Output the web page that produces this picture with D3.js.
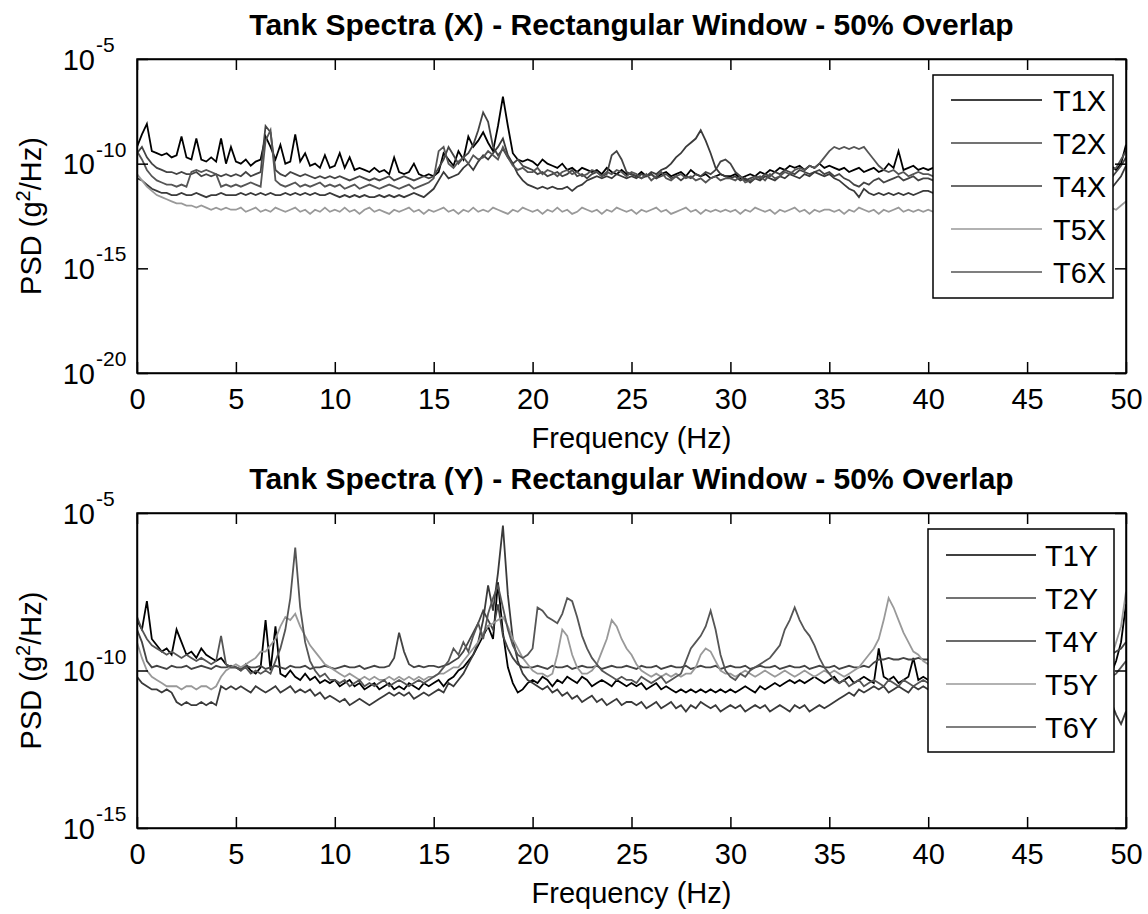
<!DOCTYPE html>
<html><head><meta charset="utf-8">
<script src="https://cdn.jsdelivr.net/npm/d3@7"></script>
<style>body{margin:0;background:#fff}svg text{font-family:"Liberation Sans",Arial,Helvetica,sans-serif;fill:#000}</style>
</head><body><svg id="chart" width="1148" height="914"></svg>
<script>
// ---------------- data (log10 of PSD, g^2/Hz), bins every 0.25 Hz from 0 to 50 Hz ----------------
const freqStep = 0.25;
const xTickValues = [0,5,10,15,20,25,30,35,40,45,50];
const yDecadesX = [-20,-15,-10,-5];
const yDecadesY = [-15,-10,-5];
const namesX = ["T1X","T2X","T4X","T5X","T6X"];
const namesY = ["T1Y","T2Y","T4Y","T5Y","T6Y"];
const titleX = "Tank Spectra (X) - Rectangular Window - 50% Overlap";
const titleY = "Tank Spectra (Y) - Rectangular Window - 50% Overlap";

const T1X = [
-9.2,-8.6,-8.1,-9.4,-9.5,-9.6,-9.5,-9.7,-9.6,-8.7,-9.7,-9.8,-8.8,-9.8,-9.9,-9.7,-9.9,-8.8,-10.0,-9.2,
-9.9,-10.0,-9.8,-10.1,-9.9,-9.8,-8.7,-9.2,-9.8,-9.1,-10.0,-9.9,-8.6,-9.9,-9.5,-10.1,-10.0,-10.2,-9.6,-10.2,
-10.1,-9.5,-10.2,-9.7,-10.3,-10.2,-10.3,-10.4,-10.2,-10.4,-10.3,-10.5,-9.7,-10.4,-10.5,-10.4,-10.0,-10.5,-10.6,-10.5,
-10.6,-10.4,-9.5,-9.8,-10.1,-9.4,-9.8,-8.7,-9.2,-8.9,-8.5,-9.0,-9.4,-8.2,-6.8,-8.2,-9.5,-9.8,-9.9,-9.8,
-9.9,-10.1,-9.8,-10.0,-10.1,-10.2,-10.0,-10.3,-10.2,-10.4,-10.2,-10.3,-10.4,-10.3,-10.5,-10.2,-10.4,-10.5,-10.3,-10.5,
-10.5,-10.6,-10.4,-10.6,-10.5,-10.7,-10.5,-10.4,-10.6,-10.5,-10.4,-10.6,-10.3,-10.5,-10.6,-10.5,-10.7,-10.6,-10.5,-10.6,
-10.6,-10.5,-10.7,-10.6,-10.5,-10.6,-10.4,-10.5,-10.3,-10.4,-10.2,-10.3,-10.1,-10.2,-10.1,-10.3,-10.1,-10.2,-10.0,-10.2,
-10.1,-10.2,-10.3,-10.2,-10.4,-10.3,-10.2,-10.4,-10.3,-10.2,-10.4,-10.3,-10.0,-10.2,-9.4,-10.3,-10.2,-10.1,-10.3,-10.2,
-10.3,-10.2,-10.4,-10.3,-10.2,-10.4,-10.3,-10.2,-10.3,-10.4,-10.2,-10.3,-10.4,-10.3,-10.2,-10.4,-10.3,-10.2,-10.4,-10.3,
-10.2,-10.4,-10.3,-10.2,-10.4,-10.3,-10.2,-10.3,-10.4,-10.2,-10.3,-10.4,-10.3,-10.2,-10.3,-10.4,-10.2,-10.1,-10.3,-10.0,
-9.1];
const T2X = [
-9.5,-9.2,-9.7,-10.0,-10.2,-10.3,-10.4,-10.4,-10.5,-10.4,-10.5,-10.5,-10.4,-10.6,-10.5,-10.6,-10.5,-10.6,-10.5,-10.6,
-10.5,-10.6,-10.4,-10.6,-10.5,-10.4,-8.2,-8.5,-10.3,-10.5,-10.6,-10.4,-10.5,-10.6,-10.5,-10.6,-10.7,-10.6,-10.7,-10.6,
-10.7,-10.6,-10.7,-10.8,-10.7,-10.6,-10.7,-10.8,-10.7,-10.8,-10.7,-10.6,-10.8,-10.7,-10.6,-10.7,-10.8,-10.7,-10.6,-10.7,
-10.6,-10.2,-9.8,-9.2,-9.6,-10.0,-9.7,-9.5,-9.1,-8.4,-7.55,-8.0,-9.2,-9.6,-9.3,-9.7,-10.0,-9.8,-10.1,-10.2,
-10.3,-10.5,-10.4,-10.6,-10.5,-10.4,-10.6,-10.5,-10.3,-10.6,-10.5,-10.7,-10.5,-10.4,-10.6,-10.5,-9.6,-9.4,-9.8,-10.4,
-10.5,-10.6,-10.7,-10.6,-10.5,-10.7,-10.6,-10.5,-10.7,-10.6,-10.8,-10.6,-10.7,-10.5,-10.6,-10.4,-10.5,-10.3,-9.9,-9.8,
-10.0,-10.4,-10.6,-10.8,-10.7,-10.6,-10.7,-10.5,-10.6,-10.4,-10.5,-10.3,-10.4,-10.5,-10.3,-10.4,-10.5,-10.4,-10.3,-10.5,
-10.4,-10.6,-10.5,-10.7,-10.8,-11.0,-11.1,-10.9,-11.0,-10.8,-10.7,-10.9,-10.8,-10.7,-10.6,-10.8,-10.7,-10.6,-10.8,-10.7,
-10.7,-10.8,-10.6,-10.7,-10.8,-10.7,-10.6,-10.8,-10.7,-10.6,-10.7,-10.8,-10.7,-10.6,-10.7,-10.8,-10.7,-10.6,-10.8,-10.7,
-10.6,-10.7,-10.8,-10.7,-10.6,-10.7,-10.8,-10.6,-10.7,-10.8,-10.7,-10.6,-10.7,-10.8,-10.7,-10.6,-10.8,-10.7,-10.4,-10.1,
-9.7];
const T4X = [
-10.7,-10.8,-11.0,-11.2,-11.3,-11.4,-11.4,-11.5,-11.5,-11.4,-11.5,-11.5,-11.4,-11.5,-11.6,-11.5,-11.5,-11.4,-11.5,-11.5,
-11.5,-11.4,-11.5,-11.4,-11.5,-11.4,-11.5,-11.4,-11.5,-11.5,-11.4,-11.5,-11.4,-11.5,-11.4,-11.5,-11.4,-11.5,-11.5,-11.4,
-11.5,-11.6,-11.5,-11.6,-11.5,-11.6,-11.5,-11.6,-11.6,-11.5,-11.6,-11.5,-11.6,-11.5,-11.6,-11.5,-11.4,-11.5,-11.6,-11.4,
-11.2,-10.8,-10.4,-10.7,-10.6,-10.5,-10.2,-10.0,-10.3,-9.9,-9.6,-9.8,-9.5,-9.2,-8.8,-9.6,-10.0,-10.5,-10.8,-11.0,
-11.1,-11.2,-11.1,-11.2,-11.1,-11.2,-11.2,-11.1,-11.3,-11.1,-11.0,-10.8,-10.7,-10.6,-10.7,-10.6,-10.7,-10.5,-10.6,-10.7,
-10.6,-10.7,-10.5,-10.6,-10.4,-10.5,-10.3,-10.2,-10.0,-9.7,-9.5,-9.2,-9.0,-8.8,-8.4,-8.9,-9.5,-10.2,-10.5,-10.6,
-10.7,-10.6,-10.8,-10.7,-10.9,-10.7,-10.8,-10.6,-10.7,-10.8,-10.6,-10.7,-10.5,-10.6,-10.7,-10.5,-10.6,-10.4,-10.5,-10.6,
-10.5,-10.7,-10.8,-11.0,-11.2,-11.3,-11.6,-11.2,-11.4,-11.5,-11.4,-11.5,-11.4,-11.5,-11.4,-11.5,-11.4,-11.5,-11.4,-11.3,
-11.3,-11.4,-11.3,-11.2,-11.3,-11.4,-11.3,-11.2,-11.3,-11.4,-11.3,-11.2,-11.3,-11.4,-11.3,-11.2,-11.3,-11.4,-11.3,-11.2,
-11.3,-11.4,-11.3,-11.2,-11.3,-11.4,-11.3,-11.2,-11.3,-11.4,-11.3,-11.2,-11.3,-11.4,-11.3,-11.2,-11.3,-11.2,-10.9,-10.6,
-10.1];
const T5X = [
-10.5,-10.8,-11.1,-11.3,-11.5,-11.6,-11.7,-11.8,-11.9,-11.9,-12.0,-12.0,-12.1,-12.0,-12.1,-12.2,-12.1,-12.2,-12.1,-12.2,
-12.2,-12.1,-12.3,-12.2,-12.1,-12.3,-12.2,-12.3,-12.1,-12.2,-12.3,-12.2,-12.1,-12.3,-12.2,-12.4,-12.2,-12.3,-12.1,-12.3,
-12.2,-12.3,-12.1,-12.3,-12.2,-12.4,-12.2,-12.1,-12.3,-12.2,-12.3,-12.4,-12.2,-12.3,-12.2,-12.1,-12.3,-12.2,-12.4,-12.2,
-12.3,-12.2,-12.1,-12.3,-12.2,-12.4,-12.2,-12.3,-12.1,-12.3,-12.2,-12.3,-12.1,-12.2,-12.3,-12.4,-12.2,-12.3,-12.1,-12.2,
-12.3,-12.2,-12.4,-12.2,-12.3,-12.1,-12.3,-12.2,-12.4,-12.3,-12.1,-12.2,-12.3,-12.2,-12.4,-12.2,-12.3,-12.1,-12.2,-12.3,
-12.2,-12.4,-12.2,-12.3,-12.2,-12.1,-12.3,-12.2,-12.4,-12.3,-12.2,-12.1,-12.3,-12.2,-12.4,-12.2,-12.3,-12.2,-12.3,-12.2,
-12.3,-12.2,-12.4,-12.2,-12.3,-12.1,-12.2,-12.3,-12.2,-12.4,-12.2,-12.3,-12.2,-12.1,-12.3,-12.2,-12.4,-12.2,-12.3,-12.2,
-12.2,-12.3,-12.2,-12.4,-12.2,-12.3,-12.1,-12.2,-12.3,-12.2,-12.4,-12.2,-12.3,-12.2,-12.1,-12.3,-12.2,-12.3,-12.2,-12.3,
-12.2,-12.3,-12.2,-12.3,-12.2,-12.4,-12.2,-12.3,-12.2,-12.1,-12.3,-12.2,-12.3,-12.2,-12.4,-12.2,-12.3,-12.2,-12.3,-12.2,
-12.3,-12.2,-12.4,-12.2,-12.3,-12.2,-12.1,-12.3,-12.2,-12.3,-12.2,-12.4,-12.2,-12.3,-12.2,-12.3,-12.2,-12.1,-12.2,-12.0,
-11.8];
const T6X = [
-9.4,-9.8,-10.3,-10.6,-10.8,-10.9,-11.0,-11.0,-11.1,-11.0,-11.1,-10.4,-10.3,-10.4,-10.3,-10.4,-10.5,-11.1,-11.0,-11.1,
-11.0,-11.1,-11.0,-10.9,-11.0,-11.1,-8.9,-8.4,-10.8,-11.0,-11.1,-11.0,-10.9,-11.1,-11.0,-11.1,-11.0,-10.9,-11.1,-11.0,
-11.1,-11.0,-11.2,-11.1,-11.0,-11.2,-11.1,-11.0,-11.1,-11.2,-11.1,-11.0,-11.1,-11.2,-11.1,-11.0,-11.2,-11.1,-11.0,-10.9,
-10.7,-9.4,-9.2,-10.0,-10.2,-9.9,-9.7,-10.0,-9.6,-9.8,-9.7,-9.4,-9.6,-9.8,-9.2,-9.7,-10.1,-10.3,-10.2,-10.4,
-10.4,-10.2,-10.5,-10.3,-10.4,-10.6,-10.4,-10.3,-10.5,-10.4,-10.6,-10.5,-10.3,-10.4,-10.6,-10.4,-10.5,-10.3,-10.4,-10.6,
-10.4,-10.5,-10.7,-10.5,-10.8,-10.6,-10.4,-10.7,-10.8,-10.6,-10.5,-10.7,-10.6,-10.8,-10.7,-10.9,-10.7,-10.6,-10.8,-10.7,
-10.7,-10.8,-10.6,-10.9,-10.8,-10.7,-10.6,-10.8,-10.5,-10.7,-10.6,-10.4,-10.5,-10.3,-10.2,-10.3,-10.1,-10.2,-10.0,-9.7,
-9.4,-9.2,-9.3,-9.2,-9.3,-9.2,-9.3,-9.2,-9.5,-9.8,-10.1,-10.3,-10.4,-10.3,-10.5,-10.4,-10.6,-10.5,-10.4,-10.5,
-10.5,-10.6,-10.5,-10.4,-10.6,-10.5,-10.4,-10.6,-10.5,-10.4,-10.5,-10.6,-10.5,-10.4,-10.6,-10.5,-10.4,-10.5,-10.6,-10.5,
-10.4,-10.6,-10.5,-10.4,-10.5,-10.6,-10.5,-10.4,-10.6,-10.5,-10.4,-10.5,-10.6,-10.5,-10.4,-10.6,-10.5,-10.3,-10.2,-9.8,
-9.4];

const T1Y = [
-8.4,-8.7,-7.8,-9.0,-9.2,-9.4,-9.3,-9.5,-8.7,-9.1,-9.5,-9.4,-9.6,-9.3,-9.5,-9.6,-9.7,-9.6,-9.8,-9.9,
-9.9,-10.0,-9.8,-10.0,-10.1,-9.9,-8.4,-10.0,-8.6,-10.1,-10.2,-10.0,-10.2,-10.3,-10.1,-10.3,-10.2,-10.4,-10.3,-10.4,
-10.3,-10.5,-10.4,-10.3,-10.5,-10.4,-10.6,-10.5,-10.4,-10.6,-10.5,-10.4,-10.6,-10.5,-10.6,-10.4,-10.5,-10.6,-10.4,-10.5,
-10.4,-10.3,-10.5,-10.3,-10.2,-10.0,-9.9,-9.7,-9.5,-9.2,-8.9,-8.6,-9.0,-7.2,-8.8,-9.9,-10.4,-10.7,-10.6,-10.4,
-10.3,-10.4,-10.2,-10.3,-10.5,-10.3,-10.4,-10.2,-10.3,-10.4,-10.2,-10.3,-10.5,-10.4,-10.3,-10.4,-10.5,-10.3,-10.4,-10.5,
-10.4,-10.5,-10.4,-10.6,-10.5,-10.4,-10.6,-10.5,-10.6,-10.7,-10.6,-10.7,-10.6,-10.7,-10.6,-10.7,-10.6,-10.7,-10.6,-10.7,
-10.6,-10.7,-10.6,-10.5,-10.6,-10.7,-10.5,-10.6,-10.5,-10.4,-10.5,-10.4,-10.3,-10.4,-10.3,-10.4,-10.3,-10.2,-10.3,-10.4,
-10.3,-10.2,-10.4,-10.3,-10.2,-10.4,-10.3,-10.2,-10.3,-10.4,-9.3,-10.2,-10.3,-10.2,-10.4,-10.3,-10.2,-9.6,-10.3,-10.2,
-10.3,-10.2,-10.4,-10.3,-10.2,-10.3,-10.4,-10.2,-10.3,-10.4,-10.2,-10.3,-10.2,-10.4,-10.3,-10.2,-10.3,-10.4,-10.2,-10.3,
-10.4,-10.2,-10.3,-10.4,-10.2,-10.3,-10.2,-10.4,-10.3,-10.2,-10.3,-10.4,-10.2,-10.3,-10.4,-10.2,-10.3,-10.1,-9.7,-9.1,
-7.9];
const T2Y = [
-8.7,-9.1,-9.7,-9.9,-9.85,-9.9,-9.95,-9.85,-9.9,-9.9,-9.85,-9.95,-9.9,-9.85,-9.9,-9.95,-9.85,-9.9,-9.9,-9.85,
-9.9,-9.95,-9.85,-9.9,-9.9,-9.85,-9.95,-9.9,-9.85,-9.9,-9.95,-9.85,-9.9,-9.9,-9.85,-9.95,-9.9,-9.9,-9.85,-9.9,
-9.95,-9.9,-9.85,-9.9,-9.9,-9.85,-9.95,-9.9,-9.85,-9.9,-9.9,-9.85,-9.6,-8.8,-9.4,-9.8,-9.9,-9.85,-9.9,-9.85,
-9.85,-9.9,-9.85,-9.8,-9.7,-9.6,-9.4,-9.1,-8.8,-8.5,-8.1,-8.4,-8.7,-7.9,-8.9,-9.3,-9.6,-9.8,-9.9,-9.9,
-9.9,-9.85,-9.9,-9.95,-9.85,-9.9,-9.9,-9.85,-9.95,-9.9,-9.85,-9.9,-9.9,-9.85,-9.95,-9.9,-9.85,-9.9,-9.9,-9.85,
-9.9,-9.95,-9.85,-9.9,-9.9,-9.85,-9.95,-9.9,-9.85,-9.9,-9.9,-9.85,-9.95,-9.9,-9.85,-9.9,-9.9,-9.85,-9.95,-9.9,
-9.85,-9.9,-9.9,-9.85,-9.95,-9.9,-9.85,-9.9,-9.9,-9.85,-9.95,-9.9,-9.85,-9.9,-9.9,-9.85,-9.95,-9.9,-9.85,-9.9,
-9.9,-9.85,-9.95,-9.9,-9.85,-9.9,-9.9,-9.85,-9.9,-9.75,-9.65,-9.65,-9.6,-9.65,-9.65,-9.6,-9.65,-9.65,-9.6,-9.65,
-9.65,-9.6,-9.65,-9.7,-9.65,-9.6,-9.65,-9.7,-9.6,-9.65,-9.7,-9.65,-9.6,-9.65,-9.7,-9.65,-9.6,-9.65,-9.7,-9.65,
-9.6,-9.65,-9.7,-9.65,-9.6,-9.65,-9.7,-9.65,-9.6,-9.65,-9.7,-9.65,-9.6,-9.65,-9.7,-9.65,-9.6,-9.5,-9.4,-9.3,
-9.1];
const T4Y = [
-10.2,-10.4,-10.5,-10.6,-10.6,-10.7,-10.6,-10.7,-11.0,-11.1,-11.0,-11.1,-11.1,-11.0,-11.1,-11.0,-11.1,-10.5,-10.6,-10.5,
-10.6,-10.5,-10.6,-10.7,-10.5,-10.6,-10.7,-10.6,-10.5,-10.7,-10.6,-10.5,-10.7,-10.6,-10.7,-10.6,-10.8,-10.7,-10.9,-10.8,
-10.9,-11.0,-10.9,-11.1,-11.0,-10.9,-11.0,-11.1,-11.0,-10.9,-10.8,-10.7,-10.8,-10.7,-10.8,-10.7,-10.9,-10.8,-10.7,-10.8,
-10.7,-10.6,-10.7,-10.4,-10.5,-10.3,-10.1,-9.8,-9.5,-9.1,-8.4,-7.3,-8.1,-6.9,-5.4,-7.6,-9.0,-9.7,-10.1,-10.3,
-10.4,-10.5,-10.6,-10.5,-10.7,-10.6,-10.8,-10.7,-10.9,-10.8,-11.0,-10.9,-10.8,-11.0,-10.9,-11.1,-11.0,-10.9,-11.1,-11.0,
-11.0,-11.1,-11.0,-11.2,-11.1,-11.0,-11.2,-11.1,-11.0,-11.2,-11.1,-11.3,-11.1,-11.2,-11.0,-11.1,-11.2,-11.1,-11.3,-11.2,
-11.1,-11.2,-11.1,-11.3,-11.2,-11.1,-11.2,-11.1,-11.3,-11.2,-11.1,-11.2,-11.3,-11.1,-11.2,-11.1,-11.3,-11.2,-11.1,-11.2,
-11.1,-11.0,-10.9,-10.8,-10.7,-10.8,-10.6,-10.7,-10.6,-10.5,-10.6,-10.5,-10.7,-10.6,-10.5,-10.6,-10.7,-10.5,-10.6,-10.5,
-10.6,-10.7,-10.6,-10.5,-10.6,-10.7,-10.6,-10.5,-10.7,-10.6,-10.5,-10.6,-10.7,-10.6,-10.5,-10.6,-10.7,-10.6,-10.5,-10.6,
-10.6,-10.7,-10.6,-10.5,-10.6,-10.7,-10.6,-10.5,-10.7,-10.6,-10.5,-10.6,-10.7,-10.6,-10.5,-10.7,-10.8,-11.0,-11.4,-11.7,
-11.3];
const T5Y = [
-9.1,-9.6,-10.0,-10.2,-10.3,-10.4,-10.5,-10.5,-10.5,-10.6,-10.5,-10.5,-10.6,-10.5,-10.5,-10.6,-10.5,-10.2,-10.0,-9.9,
-9.8,-9.9,-9.8,-9.7,-9.6,-9.4,-9.4,-9.2,-9.0,-8.6,-8.3,-8.4,-8.2,-8.6,-8.9,-9.2,-9.4,-9.6,-9.8,-9.9,
-10.0,-10.1,-10.2,-10.1,-10.2,-10.3,-10.2,-10.3,-10.2,-10.3,-10.3,-10.2,-10.3,-10.2,-10.3,-10.2,-10.3,-10.2,-10.3,-10.2,
-10.2,-10.1,-10.1,-10.0,-9.9,-9.9,-9.7,-9.5,-9.3,-9.1,-8.8,-8.6,-8.5,-8.4,-8.3,-8.6,-9.0,-9.3,-9.6,-9.8,
-10.0,-10.1,-10.1,-10.2,-10.1,-9.5,-8.7,-8.9,-9.5,-9.9,-10.1,-10.1,-10.0,-9.8,-9.4,-9.0,-8.4,-8.6,-9.0,-9.3,
-9.5,-9.8,-10.0,-10.1,-10.2,-10.1,-10.2,-10.1,-10.2,-10.1,-10.2,-10.1,-10.1,-9.9,-9.5,-9.3,-9.4,-9.7,-10.0,-10.1,
-10.1,-10.2,-10.1,-10.0,-10.1,-10.2,-10.1,-10.0,-10.1,-10.2,-10.1,-10.0,-10.1,-10.2,-10.1,-10.0,-10.1,-10.2,-10.1,-10.0,
-10.1,-10.0,-10.1,-10.2,-10.1,-10.0,-9.9,-9.7,-9.5,-9.3,-9.0,-8.4,-7.7,-8.0,-8.4,-8.8,-9.1,-9.4,-9.5,-9.7,
-9.8,-9.9,-10.0,-10.1,-10.0,-10.1,-10.2,-10.1,-10.0,-10.1,-10.2,-10.1,-10.0,-10.1,-10.2,-10.1,-10.0,-10.1,-10.2,-10.1,
-10.0,-10.1,-10.2,-10.1,-10.0,-10.1,-10.2,-10.1,-10.0,-10.1,-10.2,-10.1,-10.0,-10.1,-10.2,-10.1,-9.9,-9.6,-9.1,-8.6,
-7.5];
const T6Y = [
-8.3,-8.7,-9.0,-9.2,-9.3,-9.4,-9.5,-9.4,-9.5,-9.6,-9.5,-9.6,-9.7,-9.6,-9.7,-9.8,-9.7,-8.9,-9.8,-9.9,
-9.9,-10.0,-9.9,-10.1,-10.0,-10.1,-10.0,-10.1,-9.7,-9.3,-8.7,-7.7,-6.1,-8.0,-9.1,-9.7,-10.0,-10.2,-10.1,-10.3,
-10.3,-10.4,-10.3,-10.5,-10.4,-10.3,-10.5,-10.4,-10.5,-10.4,-10.3,-10.5,-10.4,-10.3,-10.4,-10.5,-10.4,-10.3,-10.4,-10.3,
-10.2,-10.1,-9.9,-9.7,-9.3,-9.5,-9.1,-9.4,-8.9,-8.5,-9.0,-8.2,-7.7,-7.3,-8.0,-8.7,-9.2,-9.5,-9.6,-9.5,
-9.3,-8.0,-8.1,-8.3,-8.4,-8.5,-8.2,-7.7,-7.8,-8.3,-8.9,-9.3,-9.6,-9.8,-10.0,-10.1,-10.2,-10.3,-10.2,-10.3,
-10.3,-10.4,-10.2,-10.3,-10.4,-10.3,-10.2,-10.4,-10.3,-10.2,-10.1,-9.7,-9.3,-9.1,-8.9,-8.6,-8.1,-8.7,-9.5,-10.0,
-10.2,-10.3,-10.1,-10.2,-10.0,-9.9,-9.8,-9.7,-9.6,-9.4,-9.2,-8.7,-8.4,-8.0,-8.4,-8.7,-8.9,-9.2,-9.6,-9.9,
-10.1,-10.3,-10.4,-10.3,-10.5,-10.4,-10.3,-10.5,-10.4,-10.3,-10.4,-10.5,-10.3,-10.4,-10.5,-10.3,-10.4,-10.5,-10.4,-10.3,
-10.4,-10.5,-10.3,-10.4,-10.5,-10.4,-10.3,-10.5,-10.4,-10.3,-10.4,-10.5,-10.4,-10.3,-10.5,-10.4,-10.3,-10.4,-10.5,-10.4,
-10.3,-10.5,-10.4,-10.3,-10.4,-10.5,-10.4,-10.3,-10.5,-10.4,-10.3,-10.4,-10.5,-10.4,-10.3,-10.5,-10.4,-10.2,-10.1,-9.9,
-9.7];

// ---------------- drawing ----------------
const svg = d3.select("#chart");
const FONT = 29;
const lineColors = ["#000000", "#444444", "#3a3a3a", "#999999", "#555555"];

function drawPanel(p) {
  const x = d3.scaleLinear().domain([0, 50]).range([p.left, p.right]);
  const y = d3.scaleLog().domain([Math.pow(10, p.decades[0]), Math.pow(10, p.decades[p.decades.length-1])]).range([p.bottom, p.top]);
  const g = svg.append("g");

  g.append("clipPath").attr("id", p.id).append("rect")
    .attr("x", p.left).attr("y", p.top).attr("width", p.right - p.left).attr("height", p.bottom - p.top);

  const line = d3.line().x((d, i) => x(i * freqStep)).y(d => y(Math.pow(10, d)));
  p.series.forEach((s, k) => {
    g.append("path").attr("d", line(s)).attr("fill", "none")
      .attr("stroke", lineColors[k]).attr("stroke-width", 1.8)
      .attr("stroke-linejoin", "miter").attr("clip-path", `url(#${p.id})`);
  });

  const yTickVals = p.decades.map(e => Math.pow(10, e));
  const ax = g.append("g").attr("transform", `translate(0,${p.bottom})`)
    .call(d3.axisBottom(x).tickValues(xTickValues).tickSizeInner(-11).tickSizeOuter(0).tickPadding(15).tickFormat(d3.format("d")));
  ax.selectAll("text").attr("font-size", FONT).attr("dy", "0.72em").attr("fill", "#000");
  g.append("g").attr("transform", `translate(0,${p.top})`)
    .call(d3.axisTop(x).tickValues(xTickValues).tickSizeInner(-11).tickSizeOuter(0).tickFormat(""));
  g.append("g").attr("transform", `translate(${p.left},0)`)
    .call(d3.axisLeft(y).tickValues(yTickVals).tickSizeInner(-11).tickSizeOuter(0).tickFormat(""));
  g.append("g").attr("transform", `translate(${p.right},0)`)
    .call(d3.axisRight(y).tickValues(yTickVals).tickSizeInner(-11).tickSizeOuter(0).tickFormat(""));
  g.selectAll(".domain, .tick line").attr("stroke", "#000").attr("stroke-width", 1.5);
  g.append("rect").attr("x", p.left).attr("y", p.top).attr("width", p.right - p.left).attr("height", p.bottom - p.top)
    .attr("fill", "none").attr("stroke", "#000").attr("stroke-width", 1.5);

  p.decades.forEach(e => {
    const yy = y(Math.pow(10, e));
    g.append("text").attr("x", p.left - 42).attr("y", yy + 10.5).attr("text-anchor", "end").attr("font-size", FONT).text("10");
    g.append("text").attr("x", p.left - 41).attr("y", yy - 7).attr("text-anchor", "start").attr("font-size", 21).text(String(e));
  });

  g.append("text").attr("x", (p.left + p.right) / 2).attr("y", p.titleY).attr("text-anchor", "middle")
    .attr("font-size", 30).attr("font-weight", "bold").text(p.title);
  g.append("text").attr("x", (p.left + p.right) / 2).attr("y", p.xLabelY).attr("text-anchor", "middle")
    .attr("font-size", FONT).text("Frequency (Hz)");
  const yl = g.append("text").attr("transform", `translate(41,${(p.top + p.bottom) / 2}) rotate(-90)`)
    .attr("text-anchor", "middle").attr("font-size", FONT);
  yl.append("tspan").text("PSD (g");
  yl.append("tspan").attr("font-size", 20).attr("dy", -11).text("2");
  yl.append("tspan").attr("dy", 11).text("/Hz)");

  const L = p.legend;
  g.append("rect").attr("x", L.x0).attr("y", L.y0).attr("width", L.x1 - L.x0).attr("height", L.y1 - L.y0)
    .attr("fill", "#fff").attr("stroke", "#000").attr("stroke-width", 1.5);
  p.names.forEach((n, k) => {
    const yy = L.first + k * L.step;
    g.append("line").attr("x1", L.lx0).attr("x2", L.lx1).attr("y1", yy).attr("y2", yy)
      .attr("stroke", lineColors[k]).attr("stroke-width", 1.5);
    g.append("text").attr("x", L.tx).attr("y", yy + 10.5).attr("font-size", FONT).text(n);
  });

  p.series.forEach((s, k) => { if (s.length !== 201) svg.append("text").attr("x", 10).attr("y", 20 + 20 * k + p.top).attr("fill", "red").text(p.names[k] + " len " + s.length); });
}

drawPanel({
  id: "clipX", left: 137, right: 1126, top: 59, bottom: 373, decades: yDecadesX,
  series: [T1X, T2X, T4X, T5X, T6X], names: namesX, title: titleX, titleY: 35, xLabelY: 448,
  legend: { x0: 933, x1: 1113, y0: 75, y1: 298, first: 100, step: 43, lx0: 951, lx1: 1042, tx: 1053 }
});
drawPanel({
  id: "clipY", left: 137, right: 1126, top: 513, bottom: 828, decades: yDecadesY,
  series: [T1Y, T2Y, T4Y, T5Y, T6Y], names: namesY, title: titleY, titleY: 489, xLabelY: 903,
  legend: { x0: 928, x1: 1114, y0: 529, y1: 752, first: 555, step: 43, lx0: 946, lx1: 1036, tx: 1045 }
});
</script></body></html>
